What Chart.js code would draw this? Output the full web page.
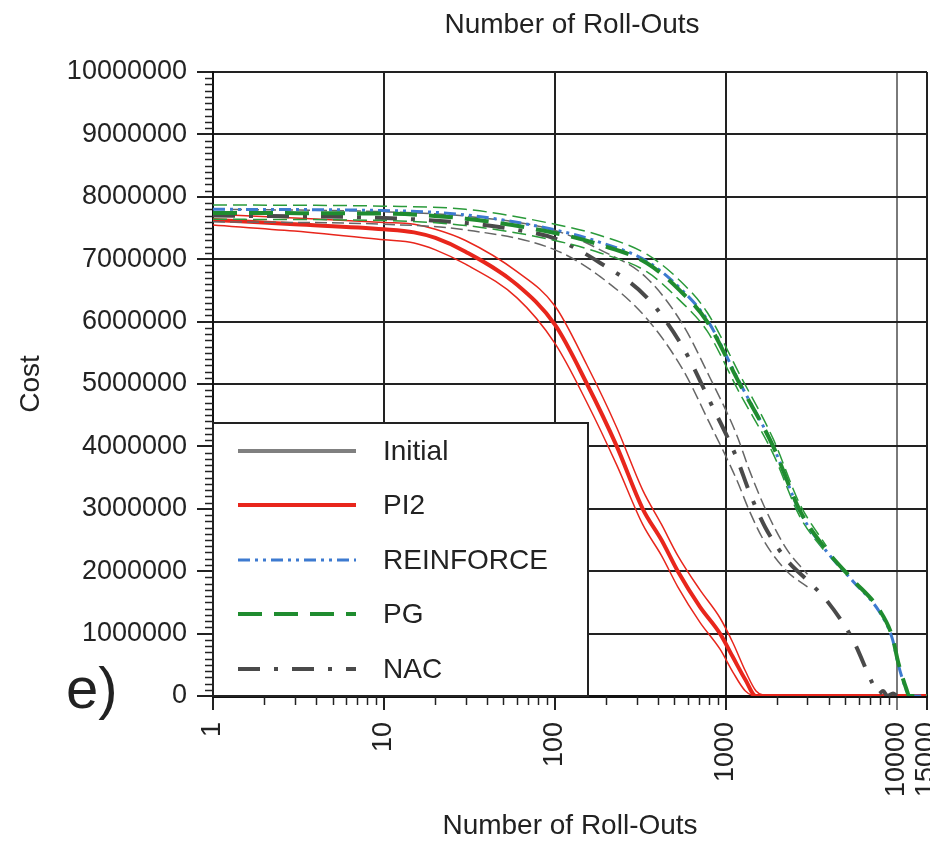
<!DOCTYPE html>
<html>
<head>
<meta charset="utf-8">
<script src="https://cdn.jsdelivr.net/npm/chart.js@4.4.0/dist/chart.umd.min.js"></script>
<style>
html, body { margin: 0; padding: 0; background: #fff; }
#wrap { width: 930px; height: 844px; position: relative; }
</style>
</head>
<body>
<div id="wrap"><canvas id="costChart" width="930" height="844"></canvas></div>
<script>
// tick labels
const xTicks = [1, 10, 100, 1000, 10000, 15000];

// PI2 (mean + spread)
const pi2Rollouts = [1, 3, 10, 15, 20, 30, 60, 100, 154, 230, 326, 420, 523, 705, 924, 1100, 1300, 1500, 15000];
const pi2Cost = [7630000, 7560000, 7480000, 7430000, 7340000, 7120000, 6590000, 5950000, 5000000, 4000000, 3000000, 2500000, 2000000, 1430000, 1000000, 620000, 260000, 0, 0];
const pi2BandRollouts = [1, 3, 10, 15, 20, 30, 60, 100, 154, 230, 326, 420, 523, 705, 924, 1100, 1300, 1500, 1700];
const pi2UpperCost = [7720000, 7660000, 7590000, 7560000, 7480000, 7300000, 6800000, 6250000, 5300000, 4300000, 3300000, 2750000, 2250000, 1700000, 1250000, 850000, 400000, 80000, 0];
const pi2LowerCost = [7550000, 7450000, 7310000, 7260000, 7150000, 6920000, 6380000, 5650000, 4700000, 3700000, 2750000, 2250000, 1750000, 1180000, 750000, 380000, 80000, 0, 0];

// PG
const pgRollouts = [1, 10, 30, 100, 184, 344, 537, 776, 1205, 1890, 2700, 3870, 5530, 7900, 9400, 10200, 11400, 11800, 15000];
const pgCost = [7740000, 7730000, 7650000, 7420000, 7230000, 6940000, 6500000, 6000000, 5000000, 4000000, 2980000, 2340000, 1860000, 1380000, 950000, 530000, 100000, 0, 0];
const pgBandRollouts = [1, 10, 30, 100, 184, 344, 537, 776, 1205, 1890, 2700, 3870];
const pgUpperCost = [7870000, 7850000, 7800000, 7560000, 7380000, 7080000, 6660000, 6150000, 5150000, 4120000, 3080000, 2400000];
const pgLowerCost = [7640000, 7620000, 7540000, 7300000, 7100000, 6800000, 6340000, 5850000, 4850000, 3880000, 2880000, 2280000];

// REINFORCE
const reinforceRollouts = [1, 10, 30, 100, 184, 344, 537, 776, 1205, 1890, 2700, 3870, 5530, 7900, 9400, 10200, 11400, 11800, 15000];
const reinforceCost = [7800000, 7780000, 7710000, 7470000, 7270000, 6970000, 6540000, 6030000, 5020000, 4000000, 2960000, 2320000, 1840000, 1350000, 920000, 500000, 80000, 0, 0];

// NAC
const nacRollouts = [1, 10, 30, 60, 100, 184, 344, 560, 800, 1150, 1380, 1700, 2270, 3000, 3860, 5530, 7200, 7800, 8300, 8800, 9500, 10000];
const nacCost = [7700000, 7660000, 7580000, 7470000, 7330000, 6940000, 6390000, 5590000, 4740000, 3830000, 3250000, 2700000, 2180000, 1850000, 1540000, 900000, 200000, 30000, 80000, 0, 40000, 0];
const nacBandRollouts = [1, 10, 30, 100, 184, 344, 560, 800, 1150, 1380, 1700, 2270, 3000];
const nacUpperCost = [7800000, 7760000, 7690000, 7460000, 7150000, 6700000, 5950000, 5120000, 4200000, 3600000, 3000000, 2350000, 1950000];
const nacLowerCost = [7600000, 7560000, 7470000, 7150000, 6720000, 6050000, 5230000, 4380000, 3480000, 2950000, 2450000, 2000000, 1750000];

const FONT = "'Liberation Sans', Arial, sans-serif";

function points(xs, ys) {
    return xs.map((x, i) => ({ x: x, y: ys[i] }));
}

function line(label, xs, ys, color, width, dash, order, inKey) {
    return {
        label: label,
        data: points(xs, ys),
        borderColor: color,
        borderWidth: width,
        borderDash: dash,
        pointRadius: 0,
        fill: false,
        cubicInterpolationMode: 'monotone',
        order: order,
        inKey: inKey
    };
}

const datasets = [
    line('Initial', [], [], '#808080', 4, [], 9, true),
    line('PI2', pi2Rollouts, pi2Cost, '#e8261c', 4, [], 5, true),
    line('REINFORCE', reinforceRollouts, reinforceCost, '#3d7ad0', 3, [12, 5, 3, 5, 3, 5], 1, true),
    line('PG', pgRollouts, pgCost, '#1f8c2f', 4, [24, 12], 0, true),
    line('NAC', nacRollouts, nacCost, '#4a4a4a', 4, [22, 14, 4, 14], 3, true),
    line('PI2 +', pi2BandRollouts, pi2UpperCost, '#e8261c', 1.5, [], 6, false),
    line('PI2 -', pi2BandRollouts, pi2LowerCost, '#e8261c', 1.5, [], 6, false),
    line('PG +', pgBandRollouts, pgUpperCost, '#2a9a3a', 1.5, [14, 6], 2, false),
    line('PG -', pgBandRollouts, pgLowerCost, '#2a9a3a', 1.5, [14, 6], 2, false),
    line('NAC +', nacBandRollouts, nacUpperCost, '#666666', 1.5, [12, 5], 4, false),
    line('NAC -', nacBandRollouts, nacLowerCost, '#666666', 1.5, [12, 5], 4, false)
];

// petits traits, légende et textes
const extrasPlugin = {
    id: 'extras',
    afterDatasetsDraw(chart) {
        const ctx = chart.ctx;
        const xs = chart.scales.x;
        const ys = chart.scales.y;
        const area = chart.chartArea;
        ctx.save();
        ctx.strokeStyle = '#222';
        ctx.lineWidth = 1.5;
        // y minor ticks
        for (let v = 100000; v < 10000000; v += 100000) {
            if (v % 1000000 === 0) continue;
            const py = Math.round(ys.getPixelForValue(v)) + 0.5;
            ctx.beginPath();
            ctx.moveTo(area.left - 8, py);
            ctx.lineTo(area.left, py);
            ctx.stroke();
        }
        // x minor ticks
        for (let d = 1; d <= 10000; d *= 10) {
            for (let k = 2; k <= 9; k++) {
                const v = k * d;
                if (v > 15000) continue;
                const px = Math.round(xs.getPixelForValue(v)) + 0.5;
                ctx.beginPath();
                ctx.moveTo(px, area.bottom);
                ctx.lineTo(px, area.bottom + 9);
                ctx.stroke();
            }
        }
        // légende
        const bx = area.left, by = 423, bw = 375, bh = area.bottom - 423;
        ctx.fillStyle = '#fff';
        ctx.fillRect(bx, by, bw, bh);
        ctx.strokeStyle = '#222';
        ctx.lineWidth = 2;
        ctx.strokeRect(bx, by, bw, bh);
        const rows = [451, 505, 560, 614, 669];
        const keyed = chart.data.datasets.filter(ds => ds.inKey);
        ctx.font = '28px ' + FONT;
        ctx.textBaseline = 'middle';
        ctx.textAlign = 'left';
        keyed.forEach((ds, i) => {
            const ry = rows[i];
            ctx.strokeStyle = ds.borderColor;
            ctx.lineWidth = ds.borderWidth;
            ctx.setLineDash(ds.borderDash);
            ctx.beginPath();
            ctx.moveTo(238, ry);
            ctx.lineTo(356, ry);
            ctx.stroke();
            ctx.setLineDash([]);
            ctx.fillStyle = '#222';
            ctx.fillText(ds.label, 383, ry + 1);
        });
        ctx.restore();
    },
    afterDraw(chart) {
        const ctx = chart.ctx;
        ctx.save();
        ctx.fillStyle = '#222';
        ctx.textAlign = 'center';
        ctx.textBaseline = 'middle';
        ctx.font = '28px ' + FONT;
        ctx.fillText('Number of Roll-Outs', 572, 25);
        ctx.textAlign = 'left';
        ctx.textBaseline = 'alphabetic';
        ctx.font = '58px ' + FONT;
        ctx.fillText('e)', 66, 708);
        ctx.restore();
    }
};

const chart = new Chart(document.getElementById('costChart'), {
    type: 'line',
    data: { datasets: datasets },
    options: {
        responsive: false,
        animation: false,
        devicePixelRatio: 1,
        layout: { padding: { top: 72, right: 3, left: 0, bottom: 0 } },
        plugins: {
            legend: { display: false },
            tooltip: { enabled: false }
        },
        scales: {
            x: {
                type: 'logarithmic',
                min: 1,
                max: 15000,
                afterBuildTicks: function(scale) {
                    scale.ticks = xTicks.map(v => ({ value: v }));
                },
                afterFit: function(scale) {
                    scale.height = 148;
                    scale.paddingLeft = 0;
                    scale.paddingRight = 0;
                },
                ticks: {
                    autoSkip: false,
                    minRotation: 90,
                    maxRotation: 90,
                    padding: 12,
                    color: '#222',
                    font: { family: FONT, size: 27 },
                    callback: function(value) { return String(value); }
                },
                grid: {
                    color: ctx => (ctx.tick && ctx.tick.value === 10000) ? '#7a7a7a' : '#222',
                    lineWidth: 2,
                    tickLength: 14
                },
                border: { color: '#111', width: 3 },
                title: {
                    display: true,
                    text: 'Number of Roll-Outs',
                    color: '#222',
                    font: { family: FONT, size: 28 },
                    padding: { top: 0, bottom: 1 }
                }
            },
            y: {
                type: 'linear',
                min: 0,
                max: 10000000,
                afterFit: function(scale) {
                    scale.width = 213;
                    scale.paddingTop = 0;
                    scale.paddingBottom = 0;
                },
                ticks: {
                    stepSize: 1000000,
                    padding: 10,
                    color: '#222',
                    font: { family: FONT, size: 27 },
                    callback: function(value) { return String(value); }
                },
                grid: {
                    color: '#222',
                    lineWidth: 2,
                    tickLength: 16
                },
                border: { color: '#111', width: 2 },
                title: {
                    display: true,
                    text: 'Cost',
                    color: '#222',
                    font: { family: FONT, size: 28 },
                    padding: { top: 14, bottom: 0 }
                }
            }
        }
    },
    plugins: [extrasPlugin]
});
</script>
</body>
</html>
